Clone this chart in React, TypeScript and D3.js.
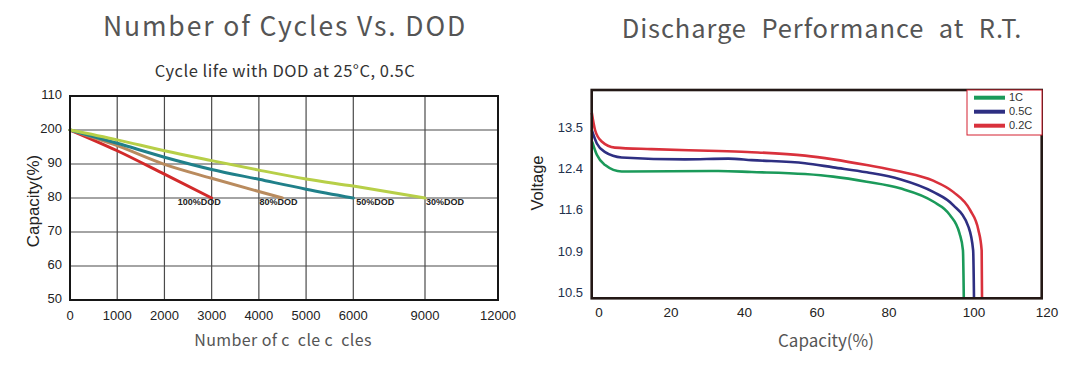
import React from "react";
import * as d3 from "d3";

// ---- left chart: cycle life vs DOD ----
const cycleTicks = [0, 1000, 2000, 3000, 4000, 5000, 6000, 9000, 12000];
const capacityTicks = [50, 60, 70, 80, 90, 100, 110];
const capacityTickLabels = ["50", "60", "70", "80", "90", "200", "110"];
const dodNames = ["100%DOD", "80%DOD", "50%DOD", "30%DOD"];
const dod100: [number, number][] = [[0, 100], [1000, 93.9], [2000, 87.0], [3000, 80]];
const dod80: [number, number][] = [[0, 100], [1000, 95.4], [2000, 89.9], [3000, 85.8], [4000, 81.9], [4500, 80]];
const dod50: [number, number][] = [[0, 100], [1000, 96.1], [2000, 92.0], [3000, 88.4], [4000, 85.5], [5000, 82.6], [6000, 80]];
const dod30: [number, number][] = [[0, 100], [1000, 97.1], [2000, 93.9], [3000, 91.0], [4000, 88.2], [5000, 85.6], [6000, 83.5], [9000, 80]];

// ---- right chart: discharge curves ----
const rateNames = ["1C", "0.5C", "0.2C"];
const voltageTicks = [10.5, 10.9, 11.6, 12.4, 13.5];
const capacityPctTicks = [0, 20, 40, 60, 80, 100, 120];
const curve1C: [number, number][] = [
  [-1.9, 13.15], [-0.6, 12.8], [1.7, 12.53], [6.3, 12.37], [32.9, 12.38], [42, 12.36],
  [56.7, 12.32], [64.5, 12.27], [73.8, 12.17], [82.6, 12.04], [90.4, 11.78], [94.3, 11.53],
  [96.6, 11.22], [97.4, 10.94], [97.6, 10.45],
];
const curve05C: [number, number][] = [
  [-2, 13.45], [-0.6, 13.1], [1.7, 12.87], [6.3, 12.73], [23.8, 12.68], [35.6, 12.7],
  [42, 12.66], [56.7, 12.58], [64.5, 12.47], [73.8, 12.355], [82.6, 12.22], [90.4, 11.97],
  [95.1, 11.71], [98.7, 11.33], [99.8, 10.94], [100, 10.45],
];
const curve02C: [number, number][] = [
  [-2, 13.91], [-1.1, 13.455], [0.75, 13.15], [4.4, 12.99], [14.6, 12.95], [32.9, 12.9],
  [42, 12.87], [56.7, 12.78], [64.5, 12.68], [73.8, 12.53], [82.6, 12.37], [90.4, 12.19],
  [95.1, 11.97], [99.1, 11.61], [101.2, 11.28], [102.1, 10.94], [102.2, 10.45],
];

const titleFont = "'Noto Sans CJK SC', 'Noto Sans', sans-serif";
const axisFont = "'Liberation Sans', Arial, sans-serif";

function CycleChart() {
  const left = 70, right = 498, top = 96, bottom = 300;

  const x = d3.scaleLinear().domain([0, 6000, 9000, 12000]).range([left, 353.3, 425, right]);
  const y = d3.scaleLinear().domain([50, 110]).range([bottom, top]);

  const line = d3.line<[number, number]>()
    .x((d) => x(d[0]))
    .y((d) => y(d[1]))
    .curve(d3.curveMonotoneX);

  const series = [dod100, dod80, dod50, dod30];
  const colors = ["#d22a2a", "#b98b5e", "#20808a", "#b7cf48"];
  const labelDx = [-34, -23, 3, 1];

  return (
    <g>
      <text x={285} y={36} textAnchor="middle" fontFamily={titleFont} fontSize={26.5} fill="#555"
        letterSpacing={1.9}>
        Number of Cycles Vs. DOD
      </text>
      <text x={285} y={77} textAnchor="middle" fontFamily={titleFont} fontSize={16.5} fill="#333" letterSpacing={0.5}>
        Cycle life with DOD at 25°C, 0.5C
      </text>

      {/* grid */}
      {cycleTicks.slice(1, -1).map((t) => (
        <line key={"vx" + t} x1={x(t)} x2={x(t)} y1={top} y2={bottom} stroke="#4a4a4a" strokeWidth={1.2} />
      ))}
      {capacityTicks.slice(1, -1).map((t) => (
        <line key={"hy" + t} x1={left} x2={right} y1={y(t)} y2={y(t)} stroke="#4a4a4a" strokeWidth={1.2} />
      ))}

      {series.map((s, i) => (
        <path key={dodNames[i]} d={line(s) || ""} fill="none" stroke={colors[i]} strokeWidth={3} strokeLinecap="round" />
      ))}
      {series.map((s, i) => {
        const end = s[s.length - 1];
        return (
          <text key={"l" + i} x={x(end[0]) + labelDx[i]} y={y(end[1]) + 6.5} fontFamily={axisFont}
            fontWeight="bold" fontSize={9} fill="#222">
            {dodNames[i]}
          </text>
        );
      })}

      <rect x={left} y={top} width={right - left} height={bottom - top} fill="none" stroke="#161616" strokeWidth={2} />

      {capacityTicks.map((t, i) => (
        <text key={"yt" + t} x={62} y={y(t)} textAnchor="end" dominantBaseline="middle"
          fontFamily={axisFont} fontSize={13} fill="#222">
          {capacityTickLabels[i]}
        </text>
      ))}
      {cycleTicks.map((t) => (
        <text key={"xt" + t} x={x(t)} y={319.5} textAnchor="middle" fontFamily={axisFont} fontSize={13} fill="#222">
          {t}
        </text>
      ))}

      <text transform="translate(39,201) rotate(-90)" textAnchor="middle" fontFamily={axisFont} fontSize={17} fill="#222">
        Capacity(%)
      </text>
      <text x={283} y={346} textAnchor="middle" fontFamily={titleFont} fontSize={16} fill="#555"
        letterSpacing={0.4} style={{ whiteSpace: "pre" }}>
        {"Number of c  cle c  cles"}
      </text>
    </g>
  );
}

function DischargeChart() {
  const left = 591.7, right = 1041.7, top = 90, bottom = 298.3;

  const x = d3.scaleLinear().domain(capacityPctTicks).range([599, 671, 744.5, 817, 889, 974, 1047]);
  const y = d3.scaleLinear().domain(voltageTicks).range([293.3, 252.7, 210.7, 170, 128.3]);

  const line = d3.line<[number, number]>()
    .x((d) => x(d[0]))
    .y((d) => y(d[1]))
    .curve(d3.curveMonotoneX);

  const series = [curve1C, curve05C, curve02C];
  const colors = ["#1b9a5a", "#2e2f82", "#d9313c"];

  const legX = 967, legY = 90;

  return (
    <g>
      <text x={822} y={38} textAnchor="middle" fontFamily={titleFont} fontSize={25.5} fill="#555"
        letterSpacing={0.9} wordSpacing={8}>
        Discharge Performance at R.T.
      </text>

      {series.map((s, i) => (
        <path key={rateNames[i]} d={line(s) || ""} fill="none" stroke={colors[i]} strokeWidth={2.6} />
      ))}

      <rect x={left} y={top} width={right - left} height={bottom - top} fill="none" stroke="#231815" strokeWidth={2.6} />

      {/* legend */}
      <rect x={legX} y={legY} width={75} height={45} fill="#fff" stroke="#d42030" strokeWidth={1} />
      {rateNames.map((n, i) => (
        <g key={"lg" + n}>
          <line x1={legX + 7} x2={legX + 38} y1={legY + 7.7 + i * 14} y2={legY + 7.7 + i * 14}
            stroke={colors[i]} strokeWidth={4} />
          <text x={legX + 42} y={legY + 7.7 + i * 14} dominantBaseline="middle" fontFamily={axisFont}
            fontSize={11} fill="#333">
            {n}
          </text>
        </g>
      ))}

      {voltageTicks.map((t) => (
        <text key={"vt" + t} x={583} y={y(t)} textAnchor="end" dominantBaseline="middle"
          fontFamily={axisFont} fontSize={13} fill="#23304d">
          {t}
        </text>
      ))}
      {capacityPctTicks.map((t) => (
        <text key={"ct" + t} x={x(t)} y={316.7} textAnchor="middle" fontFamily={axisFont} fontSize={13.5} fill="#222">
          {t}
        </text>
      ))}

      <text transform="translate(543,183) rotate(-90)" textAnchor="middle" fontFamily={axisFont} fontSize={16.5} fill="#222">
        Voltage
      </text>
      <text x={826} y={346.5} textAnchor="middle" fontFamily={titleFont} fontSize={17} fill="#555">
        Capacity(%)
      </text>
    </g>
  );
}

export default function App() {
  return (
    <svg width={1077} height={368} style={{ position: "absolute", left: 0, top: 0, background: "#fff" }}>
      <rect width={1077} height={368} fill="#fff" />
      <CycleChart />
      <DischargeChart />
    </svg>
  );
}
